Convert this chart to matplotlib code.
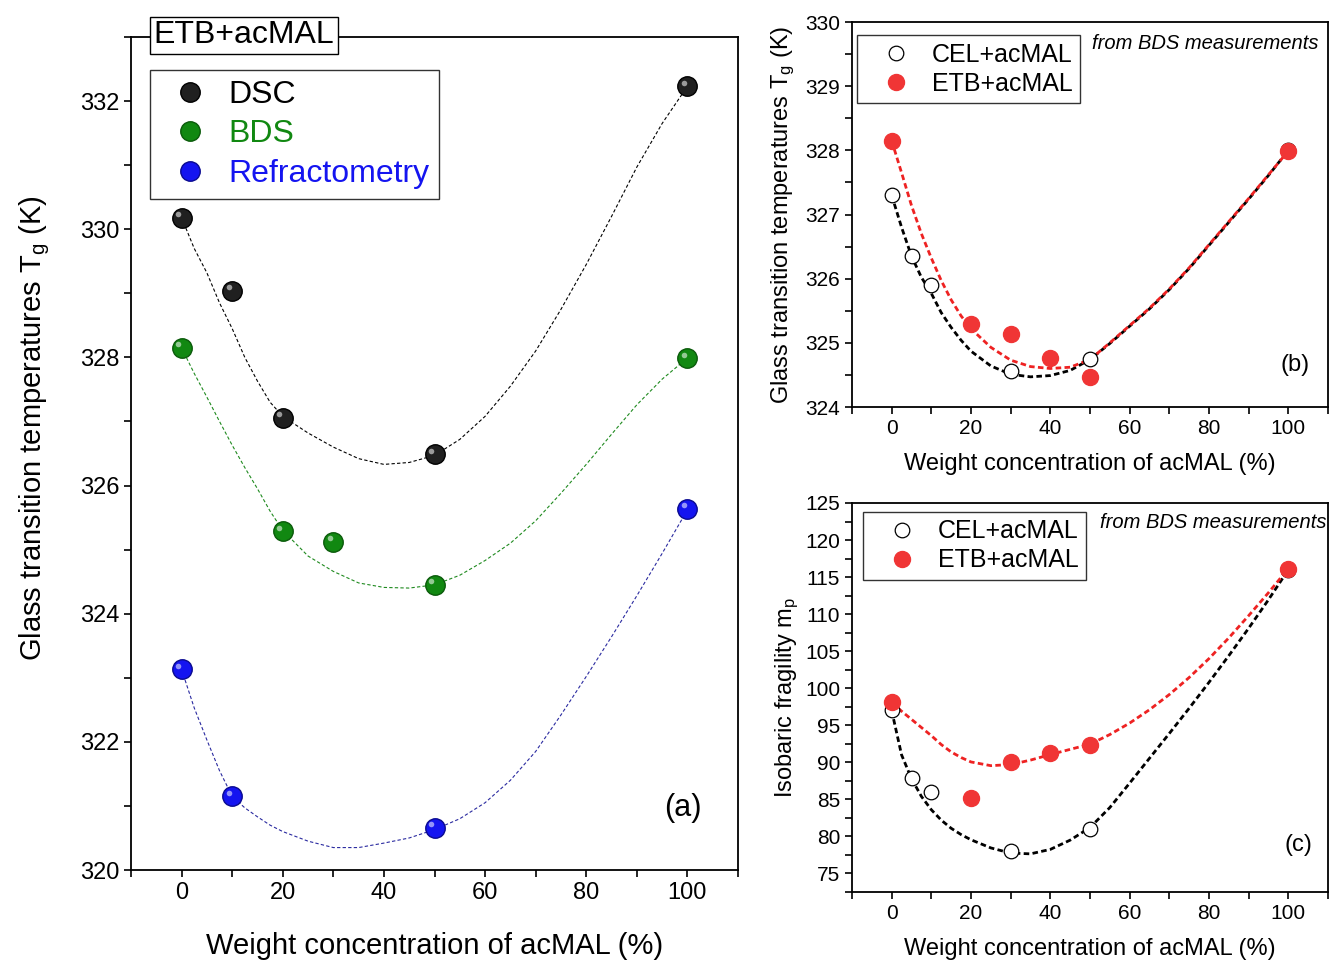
import matplotlib
matplotlib.use("Agg")
import matplotlib.pyplot as plt
import matplotlib.transforms as mtransforms
from matplotlib.ticker import MultipleLocator

plt.rcParams['font.family'] = ['Liberation Sans', 'DejaVu Sans']
plt.rcParams['mathtext.fontset'] = 'custom'
plt.rcParams['mathtext.rm'] = 'Liberation Sans'
plt.rcParams['mathtext.it'] = 'Liberation Sans:italic'

# panel (a): ETB+acMAL, Tg from three methods
dsc_x = [0, 10, 20, 50, 100]
dsc_y = [330.18, 329.04, 327.06, 326.49, 332.23]
bds_x = [0, 20, 30, 50, 100]
bds_y = [328.15, 325.29, 325.12, 324.45, 327.99]
ref_x = [0, 10, 50, 100]
ref_y = [323.13, 321.15, 320.66, 325.64]

# panel (b): Tg from BDS
cel_tg_x = [0, 5, 10, 30, 50, 100]
cel_tg_y = [327.3, 326.36, 325.9, 324.56, 324.75, 328.0]
etb_tg_x = [0, 20, 30, 40, 50, 100]
etb_tg_y = [328.15, 325.3, 325.13, 324.77, 324.46, 327.99]

# panel (c): isobaric fragility
cel_m_x = [0, 5, 10, 30, 50, 100]
cel_m_y = [97.0, 87.95, 86.0, 78.0, 81.0, 116.0]
etb_m_x = [0, 20, 30, 40, 50, 100]
etb_m_y = [98.1, 85.15, 90.1, 91.2, 92.4, 116.15]

# guide curves (dashed) at these x values
curve_x = [0, 2.5, 5, 7.5, 10, 12.5, 15, 17.5, 20, 25, 30, 35, 40, 45, 50,
           55, 60, 65, 70, 75, 80, 85, 90, 95, 100]
dsc_curve = [330.18, 329.7, 329.32, 328.85, 328.45, 328.0, 327.63, 327.3, 327.08,
             326.82, 326.6, 326.42, 326.33, 326.36, 326.47, 326.72, 327.08, 327.55,
             328.1, 328.75, 329.45, 330.2, 330.97, 331.65, 332.23]
bds_curve = [328.15, 327.75, 327.38, 327.0, 326.63, 326.28, 325.95, 325.6, 325.3,
             324.9, 324.66, 324.48, 324.41, 324.4, 324.45, 324.6, 324.83, 325.1,
             325.45, 325.88, 326.33, 326.8, 327.26, 327.66, 327.99]
ref_curve = [323.13, 322.53, 322.03, 321.55, 321.15, 320.97, 320.83, 320.7, 320.6,
             320.45, 320.35, 320.35, 320.42, 320.5, 320.63, 320.8, 321.05, 321.4,
             321.85, 322.42, 323.02, 323.64, 324.28, 324.94, 325.62]
cel_tg_curve = [327.3, 326.8, 326.35, 326.02, 325.77, 325.47, 325.24, 325.04, 324.87,
                324.64, 324.51, 324.47, 324.49, 324.57, 324.74, 324.99, 325.26, 325.53,
                325.83, 326.16, 326.52, 326.88, 327.24, 327.61, 328.0]
etb_tg_curve = [328.15, 327.65, 327.14, 326.7, 326.32, 325.97, 325.67, 325.42, 325.22,
                324.93, 324.73, 324.63, 324.6, 324.62, 324.74, 325.0, 325.27, 325.54,
                325.84, 326.17, 326.53, 326.89, 327.25, 327.62, 327.99]
cel_m_curve = [97.0, 91.0, 87.8, 85.4, 83.6, 82.2, 81.1, 80.25, 79.55, 78.45, 77.75,
               77.65, 78.25, 79.5, 81.2, 83.9, 87.2, 90.55, 93.9, 97.3, 100.8, 104.4,
               108.1, 111.95, 116.0]
etb_m_curve = [98.1, 96.9, 95.8, 94.7, 93.6, 92.4, 91.4, 90.65, 90.05, 89.55, 89.7,
               90.3, 91.05, 91.75, 92.45, 93.75, 95.3, 97.1, 99.15, 101.45, 104.0,
               106.8, 109.8, 112.9, 116.15]

W, H = 1330, 963
fig = plt.figure(figsize=(W / 100, H / 100), dpi=100)


def box(l, t, r, b):
    return [l / W, 1 - b / H, (r - l) / W, (b - t) / H]


def ball(ax, x, y, color, dark, label):
    ax.plot(x, y, 'o', ms=14, mfc=color, mec=dark, mew=1, label=label, zorder=3)
    shift = mtransforms.ScaledTranslation(-2.5 / 72, 2.5 / 72, fig.dpi_scale_trans)
    ax.plot(x, y, 'o', ms=4, mfc='white', mec='none', alpha=0.55,
            transform=ax.transData + shift, zorder=4)


def style(ax, fs):
    ax.tick_params(direction='out', labelsize=fs, width=1.2, length=5,
                   top=False, right=False)
    ax.tick_params(which='minor', direction='out', width=1.2, length=5)
    for s in ax.spines.values():
        s.set_linewidth(1.3)
    ax.xaxis.set_major_locator(MultipleLocator(20))
    ax.xaxis.set_minor_locator(MultipleLocator(10))
    ax.set_xlim(-10, 110)


def small_legend(ax, anchor):
    leg = ax.legend(loc='upper left', bbox_to_anchor=anchor, borderaxespad=0,
                    fontsize=18, frameon=True, fancybox=False, edgecolor='black',
                    handlelength=2.5, handletextpad=0.2, labelspacing=0.2,
                    borderpad=0.3)
    leg.get_frame().set_linewidth(1.0)


# ---- (a)
ax = fig.add_axes(box(131, 37, 738, 870))
dash_a = (0, (3, 2))
ax.plot(curve_x, dsc_curve, color='black', lw=0.8, ls=dash_a, zorder=2)
ax.plot(curve_x, bds_curve, color='#1f8a1f', lw=0.8, ls=dash_a, zorder=2)
ax.plot(curve_x, ref_curve, color='#2a2aa0', lw=0.8, ls=dash_a, zorder=2)
ball(ax, dsc_x, dsc_y, '#202020', 'black', 'DSC')
ball(ax, bds_x, bds_y, '#118811', '#0a5a0a', 'BDS')
ball(ax, ref_x, ref_y, '#1414f0', '#0a0a90', 'Refractometry')
ax.set_ylim(320, 333)
style(ax, 17)
ax.yaxis.set_major_locator(MultipleLocator(2))
ax.yaxis.set_minor_locator(MultipleLocator(1))
ax.set_xlabel('Weight concentration of acMAL (%)', fontsize=21, labelpad=20)
ax.set_ylabel('Glass transition temperatures T$_\\mathrm{g}$ (K)', fontsize=21, labelpad=20)
ax.yaxis.label.set_y(0.53)
leg = ax.legend(loc='upper left', bbox_to_anchor=(0.031, 0.96), borderaxespad=0,
                fontsize=23, frameon=True, fancybox=False, edgecolor='black',
                handlelength=1.9, handletextpad=0.27, labelspacing=0.3,
                borderpad=0.3)
leg.get_frame().set_linewidth(1.0)
for t, c in zip(leg.get_texts(), ['black', '#118811', '#1414f0']):
    t.set_color(c)
ax.text(0.186, 1.002, 'ETB+acMAL', transform=ax.transAxes, fontsize=23,
        ha='center', va='center', zorder=10,
        bbox=dict(boxstyle='square,pad=0.12', fc='white', ec='black', lw=1.0))
ax.text(0.909, 0.074, '(a)', transform=ax.transAxes, fontsize=22,
        ha='center', va='center')

# ---- (b)
ax = fig.add_axes(box(852, 22, 1328, 407))
dash_bc = (0, (2, 1.2))
ax.plot(curve_x, cel_tg_curve, color='black', lw=2.0, ls=dash_bc, zorder=2)
ax.plot(curve_x, etb_tg_curve, color='#ee2222', lw=2.0, ls=dash_bc, zorder=2)
ax.plot(cel_tg_x, cel_tg_y, 'o', ms=10.5, mfc='white', mec='black', mew=0.9,
        label='CEL+acMAL', zorder=3)
ax.plot(etb_tg_x, etb_tg_y, 'o', ms=11.5, mfc='#f03535', mec='#f03535',
        label='ETB+acMAL', zorder=4)
ax.set_ylim(324, 330)
style(ax, 15)
ax.yaxis.set_major_locator(MultipleLocator(1))
ax.yaxis.set_minor_locator(MultipleLocator(0.5))
ax.set_xlabel('Weight concentration of acMAL (%)', fontsize=17, labelpad=11)
ax.set_ylabel('Glass transition temperatures T$_\\mathrm{g}$ (K)', fontsize=17, labelpad=6)
small_legend(ax, (0.0105, 0.966))
ax.text(0.504, 0.943, 'from BDS measurements', transform=ax.transAxes,
        fontsize=14.5, style='italic', ha='left', va='center')
ax.text(0.93, 0.109, '(b)', transform=ax.transAxes, fontsize=17,
        ha='center', va='center')

# ---- (c)
ax = fig.add_axes(box(852, 503, 1328, 892))
ax.plot(curve_x, cel_m_curve, color='black', lw=2.0, ls=dash_bc, zorder=2)
ax.plot(curve_x, etb_m_curve, color='#ee2222', lw=2.0, ls=dash_bc, zorder=2)
ax.plot(cel_m_x, cel_m_y, 'o', ms=10.5, mfc='white', mec='black', mew=0.9,
        label='CEL+acMAL', zorder=3)
ax.plot(etb_m_x, etb_m_y, 'o', ms=11.5, mfc='#f03535', mec='#f03535',
        label='ETB+acMAL', zorder=4)
ax.set_ylim(72.5, 125)
style(ax, 15)
ax.yaxis.set_major_locator(MultipleLocator(5))
ax.yaxis.set_minor_locator(MultipleLocator(2.5))
ax.set_xlabel('Weight concentration of acMAL (%)', fontsize=17, labelpad=11)
ax.set_ylabel('Isobaric fragility m$_\\mathrm{p}$', fontsize=17, labelpad=3)
small_legend(ax, (0.023, 0.977))
ax.text(0.521, 0.949, 'from BDS measurements', transform=ax.transAxes,
        fontsize=14.5, style='italic', ha='left', va='center')
ax.text(0.937, 0.121, '(c)', transform=ax.transAxes, fontsize=17,
        ha='center', va='center')

fig.savefig('out.png', dpi=100)
